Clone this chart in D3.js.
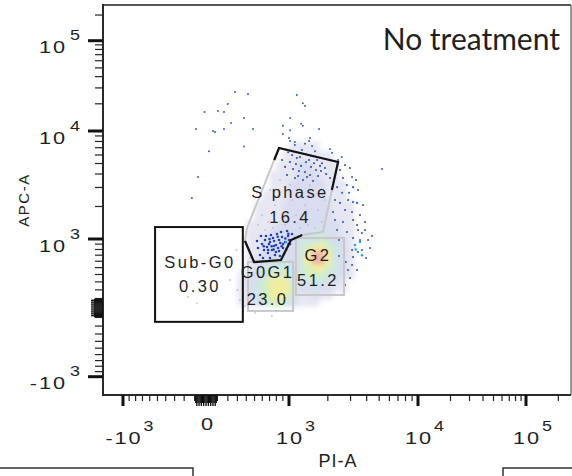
<!DOCTYPE html>
<html>
<head>
<meta charset="utf-8">
<script src="https://cdn.jsdelivr.net/npm/d3@7"></script>
<style>
  html, body { margin: 0; padding: 0; background: #fff; }
  svg { display: block; }
  text { font-family: "Liberation Sans", Arial, sans-serif; fill: #1e1e1e; }
</style>
</head>
<body>
<svg id="chart" width="572" height="476"></svg>
<script>
// ---------------- data ----------------
const panelTitle = "No treatment";
const xTitle = "PI-A";
const yTitle = "APC-A";

const xMajorTicks  = [-1000, 0, 1000, 10000, 100000];
const xMajorLabels = [["-10", "3"], ["0", ""], ["10", "3"], ["10", "4"], ["10", "5"]];
const yMajorTicks  = [-1000, 1000, 10000, 100000];
const yMajorLabels = [["-10", "3"], ["10", "3"], ["10", "4"], ["10", "5"]];

// gates: [PI-A, APC-A] in channel values
const subG0Gate = [[-530, -150], [360, 1290]];
const g0g1Gate  = [[420, -30], [1075, 590]];
const g2Gate    = [[1130, 140], [2670, 1020]];
const sPhaseGate = [[840, 6960], [2400, 5160], [2150, 2840], [1835, 1160], [1265, 1089],
                    [1036, 980], [870, 620], [494, 587], [385, 960], [408, 1265]];
const sPhaseLabelAt = [1000, 2300];

const gateNames  = ["Sub-G0", "S phase", "G0G1", "G2"];
const gatePercents = ["0.30", "16.4", "23.0", "51.2"];

// event density (2D histogram), bin edges in channel values
const piBinEdges  = [300, 400, 500, 600, 700, 800, 900, 1000, 1150, 1300, 1500, 1700, 1900, 2150, 2450, 2800, 3200, 3650, 4200];
const apcBinEdges = [8000, 6500, 5300, 4300, 3500, 2850, 2300, 1850, 1500, 1250, 1050, 900, 780, 660, 550, 450, 350, 260, 170, 90, 20];
const densityLevels = [
  [0,0,0,0,0,0,0,1,1,1,1,0,0,0,0,0,0,0],
  [0,0,0,0,0,0,1,1,1,1,1,1,1,0,0,0,0,0],
  [0,0,0,0,0,1,1,1,2,2,1,1,1,1,0,0,0,0],
  [0,0,0,0,1,1,1,1,2,2,2,1,1,1,0,0,0,0],
  [0,0,0,0,1,1,1,2,2,2,2,2,1,1,1,0,0,0],
  [0,0,0,1,1,1,1,2,2,2,2,2,1,1,1,0,0,0],
  [0,0,1,1,1,1,2,2,2,2,2,2,2,1,1,1,0,0],
  [0,0,1,1,1,1,2,2,2,2,2,2,2,1,1,1,0,0],
  [0,1,1,1,1,2,2,2,2,2,2,2,2,2,1,1,0,0],
  [0,1,1,1,2,2,2,2,2,2,3,3,2,2,1,1,0,0],
  [0,1,1,2,2,2,2,2,3,3,3,4,3,2,2,1,0,0],
  [0,1,1,2,2,2,2,2,3,4,5,5,4,3,2,1,0,0],
  [0,1,1,2,2,2,2,2,3,5,6,6,5,3,2,1,0,0],
  [0,1,2,2,2,3,3,2,3,5,6,6,5,3,2,1,0,0],
  [0,1,2,3,3,3,3,2,3,4,5,5,4,3,2,1,0,0],
  [1,2,2,3,4,4,4,3,3,4,4,4,3,3,2,1,0,0],
  [1,2,3,4,5,5,5,3,2,3,3,3,3,2,1,0,0,0],
  [1,2,3,4,5,5,5,4,2,2,3,2,2,1,1,0,0,0],
  [1,2,3,4,5,5,5,3,1,1,2,1,1,0,0,0,0,0],
  [1,1,2,3,4,4,3,2,1,1,1,0,0,0,0,0,0,0]
];

// individual events [PI-A, APC-A]
const sparseEvents = [
  [274,27000],[420,25700],[1150,25000],[200,19900],[1280,20300],[1330,18900],[-12,16200],[105,16600],
  [162,16200],[373,13900],[1020,13900],[232,12300],[1240,12000],[1280,11400],[900,11400],[-87,10500],
  [60,10000],[78,9800],[162,10500],[480,10500],[1020,10200],[1710,10500],[900,9400],[1000,8600],
  [1020,8100],[1455,8600],[1110,7900],[1330,7600],[1430,8100],[25,6500],[373,7200],[2080,6800],
  [2160,6300],[2560,5750],[-69,3750],[-125,2400],[5260,4440],[1510,7250],[1110,7400],[1590,6500]
];
const sTopEvents = [
  [985,6350],[1057,5990],[1150,5620],[1260,6670],[1355,6120],[1480,5870],[1650,5390],[1800,5030],
  [1018,5150],[1133,4940],[1240,4750],[1355,5150],[1480,4650],[1620,4350],[1770,4260],[935,4650],
  [1075,4440],[1195,4260],[1330,4170],[1455,3910],[1680,3830],[1940,3990],[2080,3670],[968,3910],
  [1113,3670],[1285,3520],[1535,3440],[887,5390],[1217,5750],[1430,5390],[1563,5030],[1900,4540],
  [1175,3830],[1740,4750],[1380,3750]
];
const sBottomEvents = [
  [597,900],[637,980],[664,846],[706,940],[750,1021],[794,883],[840,980],[887,1043],[935,940],
  [985,1066],[624,791],[678,738],[735,791],[779,703],[840,773],[903,828],[951,791],[1018,900],
  [650,1066],[720,1089],[809,1113],[871,1160],[968,1185],[1056,1113],[544,828],[570,703],[610,653],
  [706,653],[765,864],[825,828],[919,720],[692,900],[903,900],[765,960],[1000,980],[855,686],
  [531,960],[1113,1021],[583,1066],[794,755],[620,860],[700,1000],[760,800],[860,920],[940,1010],
  [680,790],[820,1050],[730,860],[880,860],[990,1120]
];
const g2EdgeEvents = [
  [2620,3670],[3080,3750],[3305,3520],[2360,3020],[2810,3160],[3135,3020],[2580,2680],[2274,2300],
  [2486,2160],[2870,2300],[3135,2200],[3370,2160],[2195,1780],[2718,1856],[3080,1780],[2274,1500],
  [2620,1437],[3135,1500],[3370,1348],[2360,1211],[2810,1160],[3430,1211],[3135,1021],[3552,980],
  [3080,791],[3430,755],[3135,670],[3680,1135],[3680,791],[3080,540],[2870,465],[2718,260],
  [3883,1437],[4100,980],[3955,653],[4245,828],[2486,4350],[2718,4840],[2971,4540],[2400,5390],
  [3552,1668],[3750,2065],[3430,2843],[2920,2680],[3883,1211],[2440,980],[2670,846],[2440,686],
  [2760,587],[3370,465],[2971,352],[2620,140],[4400,1066]
];
const midDensityEvents = [[3249,883],[3300,800],[3550,940],[951,940],[985,900],[3680,700]];
const faintEvents = [
  [-162,117],[-78,51],[328,84],[385,20],[506,-50],[735,-80],[300,198],[222,325],[362,465],[444,653],
  [290,791],[597,1668],[678,1437],[779,2065],[855,2555],[935,1780],[1057,2297],[1175,2843],[1330,2065],
  [1510,2555],[1680,1856],[1800,1437],[1405,1348],[1133,1668],[935,1348],[750,1265],[637,1211],
  [1217,1265],[1591,1265],[1902,2297],[1018,3162],[855,3517],[706,2843],[544,1348],[2005,1856],[1455,3162]
];

// ---------------- layout & scales ----------------
const svg = d3.select("#chart");
const frame = { left: 103, right: 571, top: 5, bottom: 395 };

// biexponential-style display: near-linear around zero, logarithmic above 10^3
const xNear = d3.scaleSymlog().constant(1000).domain([-1400, -1000, 0, 1000]).range([frame.left, 123, 206, 289]);
const xFar  = d3.scaleLog().domain([1000, 10000, 100000, 262144]).range([289, 418, 526, frame.right]);
const x = v => (v > 1000 ? xFar(v) : xNear(v));
const yNear = d3.scaleSymlog().constant(1000).domain([-1400, -1000, 0, 1000]).range([frame.bottom, 376.7, 308, 239]);
const yFar  = d3.scaleLog().domain([1000, 10000, 100000, 262144]).range([239, 131, 40.7, frame.top]);
const y = v => (v > 1000 ? yFar(v) : yNear(v));

const levelColor = d3.scaleOrdinal()
  .domain([1, 2, 3, 4, 5, 6])
  .range(["#e7e7f3", "#d9dcf0", "#cde6e6", "#d6eec0", "#f1ed9e", "#f2b3a6"]);

const defs = svg.append("defs");
defs.append("filter").attr("id", "soften").attr("x", "-20%").attr("y", "-20%").attr("width", "140%").attr("height", "140%")
  .append("feGaussianBlur").attr("stdDeviation", 2.4);
defs.append("clipPath").attr("id", "plotClip").append("rect")
  .attr("x", frame.left).attr("y", frame.top)
  .attr("width", frame.right - frame.left).attr("height", frame.bottom - frame.top);

// ---------------- density cells ----------------
const cells = [];
densityLevels.forEach((row, r) => row.forEach((lv, c) => {
  if (lv > 0) cells.push({ x0: piBinEdges[c], x1: piBinEdges[c + 1], y0: apcBinEdges[r], y1: apcBinEdges[r + 1], lv });
}));
svg.append("g").attr("clip-path", "url(#plotClip)")
  .append("g").attr("filter", "url(#soften)")
  .selectAll("rect").data(cells).join("rect")
  .attr("x", d => x(d.x0)).attr("width", d => x(d.x1) - x(d.x0) + 0.6)
  .attr("y", d => y(d.y0)).attr("height", d => y(d.y1) - y(d.y0) + 0.6)
  .attr("fill", d => levelColor(d.lv));

// ---------------- events ----------------
const dots = svg.append("g").attr("clip-path", "url(#plotClip)");
function drawEvents(data, color, r) {
  dots.append("g").selectAll("circle").data(data).join("circle")
    .attr("cx", d => x(d[0])).attr("cy", d => y(d[1])).attr("r", r).attr("fill", color);
}
drawEvents(faintEvents, "#b8bfe6", 0.9);
drawEvents(sparseEvents, "#3a5bc6", 1.0);
drawEvents(sTopEvents, "#2f50c0", 1.05);
drawEvents(g2EdgeEvents, "#3456c4", 1.05);
drawEvents(sBottomEvents, "#2241b4", 1.3);
drawEvents(midDensityEvents, "#29a6e2", 1.3);

// ---------------- gates ----------------
const gates = svg.append("g").attr("fill", "none");
function rectGate(g) {
  return { x: x(g[0][0]), y: y(g[1][1]), w: x(g[1][0]) - x(g[0][0]), h: y(g[0][1]) - y(g[1][1]) };
}
[g0g1Gate, g2Gate].forEach(g => {
  const b = rectGate(g);
  gates.append("rect").attr("x", b.x).attr("y", b.y).attr("width", b.w).attr("height", b.h)
    .attr("stroke", "#c8c8c8").attr("stroke-width", 2);
});
const sPts = sPhaseGate.map(p => [x(p[0]), y(p[1])]);
gates.append("polygon").attr("points", sPts.map(p => p.join(",")).join(" "))
  .attr("stroke", "#c8c8c8").attr("stroke-width", 2);
const line = d3.line();
const leftBreak = d3.interpolate(sPts[0], sPts[9])(0.15);
gates.append("path").attr("d", line([leftBreak, sPts[0], sPts[1], sPts[2]]))
  .attr("stroke", "#111").attr("stroke-width", 2.2).attr("stroke-linejoin", "miter");
gates.append("path").attr("d", line([sPts[8], sPts[7], sPts[6], sPts[5], sPts[4]]))
  .attr("stroke", "#111").attr("stroke-width", 2.2);
const sb = rectGate(subG0Gate);
gates.append("rect").attr("x", sb.x).attr("y", sb.y).attr("width", sb.w).attr("height", sb.h)
  .attr("stroke", "#111").attr("stroke-width", 2);

// gate labels
const gl = svg.append("g").attr("text-anchor", "middle").style("font-size", "16.5px").style("letter-spacing", "2.4px");
function gateLabel(cx, cy, name, pct, dy0, dy1) {
  gl.append("text").attr("x", cx).attr("y", cy + dy0).text(name);
  gl.append("text").attr("x", cx).attr("y", cy + dy1).text(pct);
}
gateLabel(sb.x + sb.w / 2 + 1, sb.y + sb.h / 2, gateNames[0], gatePercents[0], -6, 18);
gateLabel(x(sPhaseLabelAt[0]) + 1, y(sPhaseLabelAt[1]), gateNames[1], gatePercents[1], -2, 23);
const gb = rectGate(g0g1Gate);
gateLabel(gb.x + gb.w / 2 - 3, gb.y + gb.h / 2, gateNames[2], gatePercents[2], -8, 19);
const g2b = rectGate(g2Gate);
gateLabel(g2b.x + g2b.w / 2 - 2, g2b.y + g2b.h / 2, gateNames[3], gatePercents[3], -6, 19);

// ---------------- frame & axes ----------------
const ax = svg.append("g");
ax.append("line").attr("x1", frame.left).attr("x2", frame.right).attr("y1", frame.top).attr("y2", frame.top)
  .attr("stroke", "#555").attr("stroke-width", 2);
ax.append("line").attr("x1", frame.right).attr("x2", frame.right).attr("y1", frame.top).attr("y2", frame.bottom)
  .attr("stroke", "#777").attr("stroke-width", 1.5);
ax.append("line").attr("x1", frame.left).attr("x2", frame.left).attr("y1", frame.top - 1).attr("y2", frame.bottom + 1)
  .attr("stroke", "#2a2a2a").attr("stroke-width", 2);
ax.append("line").attr("x1", frame.left - 1).attr("x2", frame.right).attr("y1", frame.bottom).attr("y2", frame.bottom)
  .attr("stroke", "#2a2a2a").attr("stroke-width", 2);

function minorValues(maxV) {
  const out = [];
  [100, 1000, 10000, 100000].forEach(d => {
    for (let k = 2; k <= 9; k++) if (k * d <= maxV) out.push(k * d);
  });
  out.push(100);
  for (let k = 1; k <= 9; k++) { out.push(-k * 100); }
  return out;
}
const nearZero = d3.range(-90, 91, 10);
const xMinor = minorValues(262144).filter(v => x(v) > frame.left + 1 && x(v) < frame.right - 1);
const yMinor = minorValues(262144).filter(v => y(v) > frame.top + 1 && y(v) < frame.bottom - 1);

// x ticks
ax.append("g").selectAll("line").data(xMinor).join("line")
  .attr("x1", d => x(d)).attr("x2", d => x(d)).attr("y1", frame.bottom).attr("y2", frame.bottom + 6)
  .attr("stroke", "#222").attr("stroke-width", 1.2);
ax.append("g").selectAll("line").data(nearZero).join("line")
  .attr("x1", d => x(d)).attr("x2", d => x(d)).attr("y1", frame.bottom).attr("y2", d => frame.bottom + (d % 20 === 0 ? 11 : 8))
  .attr("stroke", "#111").attr("stroke-width", 1.4);
ax.append("g").selectAll("line").data(xMajorTicks.filter(v => v !== 0)).join("line")
  .attr("x1", d => x(d)).attr("x2", d => x(d)).attr("y1", frame.bottom).attr("y2", frame.bottom + 11)
  .attr("stroke", "#111").attr("stroke-width", 3);

// y ticks
ax.append("g").selectAll("line").data(yMinor).join("line")
  .attr("y1", d => y(d)).attr("y2", d => y(d)).attr("x1", frame.left).attr("x2", frame.left - 8)
  .attr("stroke", "#222").attr("stroke-width", 1.2);
ax.append("g").selectAll("line").data(nearZero).join("line")
  .attr("y1", d => y(d)).attr("y2", d => y(d)).attr("x1", frame.left).attr("x2", d => frame.left - (d % 20 === 0 ? 12 : 9))
  .attr("stroke", "#111").attr("stroke-width", 1.4);
ax.append("g").selectAll("line").data(yMajorTicks).join("line")
  .attr("y1", d => y(d)).attr("y2", d => y(d)).attr("x1", frame.left).attr("x2", frame.left - 15)
  .attr("stroke", "#111").attr("stroke-width", 3);

// tick labels (glyphs drawn slightly widened, as in the cytometer export)
const stretch = 1.28;
const tl = svg.append("g").style("font-size", "17px").style("letter-spacing", "1.5px");
function wideText(g, tx, ty, str, anchor, size) {
  const t = g.append("text").attr("transform", `translate(${tx},${ty}) scale(${stretch},1)`)
    .attr("text-anchor", anchor).text(str);
  if (size) t.style("font-size", size);
  return t;
}
xMajorTicks.forEach((v, i) => {
  const [base, sup] = xMajorLabels[i];
  if (!sup) {
    wideText(tl, x(v) + 2, frame.bottom + 35, base, "middle");
    return;
  }
  const t = wideText(tl, x(v) + 1, frame.bottom + 49, base, "middle");
  const w = t.node().getBBox().width * stretch;
  wideText(tl, x(v) + 1 + w / 2 + 1, frame.bottom + 36, sup, "start", "14px");
});
yMajorTicks.forEach((v, i) => {
  const [base, sup] = yMajorLabels[i];
  wideText(tl, 67, y(v) + 12.5, base, "end");
  wideText(tl, 70, y(v) - 0.5, sup, "start", "14px");
});

// axis titles
svg.append("text").attr("x", 338).attr("y", 467).attr("text-anchor", "middle")
  .style("font-size", "18px").style("letter-spacing", "1px").text(xTitle);
svg.append("text").attr("transform", "translate(29,200) rotate(-90)").attr("text-anchor", "middle")
  .style("font-size", "15px").style("letter-spacing", "1.5px").text(yTitle);

// panel title
svg.append("text").attr("x", 560).attr("y", 50).attr("text-anchor", "end")
  .style("font-family", "Lato, 'Open Sans', sans-serif").style("font-size", "30px").style("fill", "#231f20")
  .text(panelTitle);

// neighbouring panel frames along the bottom edge
const nb = svg.append("g").attr("fill", "none").attr("stroke", "#333").attr("stroke-width", 1.5);
nb.append("path").attr("d", d3.line()([[0, 468], [193, 468], [193, 480]]));
nb.append("path").attr("d", d3.line()([[503, 480], [503, 468], [572, 468]]));
</script>
</body>
</html>
